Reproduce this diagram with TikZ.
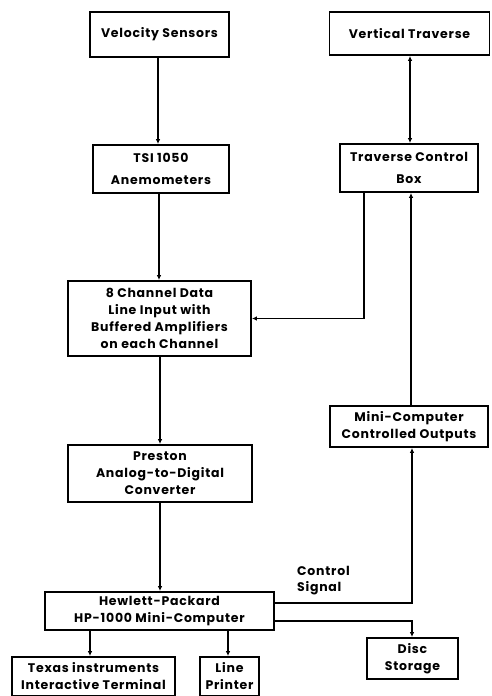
\documentclass[tikz,border=0pt]{standalone}
\usepackage{fontspec}
\setmainfont{Poppins}[LetterSpace=6]
\usetikzlibrary{positioning,arrows.meta}

\begin{document}
\begin{tikzpicture}[x=1pt,y=-1pt,
  blk/.style={draw,line width=1.8pt,align=center,inner sep=0pt,
    font=\bfseries\fontsize{12.5}{17}\selectfont},
  conn/.style={line width=1.5pt,-{Latex[length=5pt,width=4.5pt]}},
  lbl/.style={align=left,inner sep=0pt,font=\bfseries\fontsize{12.5}{16}\selectfont}]
\useasboundingbox (0,0) rectangle (491,696);
% left column
\node[blk,minimum width=139pt,minimum height=45pt] (vel) at (159.5,34.5) {Velocity Sensors};
\node[blk,minimum width=136pt,minimum height=48pt] (tsi) at (161,169) {TSI 1050\\[5pt]Anemometers};
\node[blk,minimum width=183pt,minimum height=75pt] (data) at (159.5,318.5) {8 Channel Data\\Line Input with\\Buffered Amplifiers\\on each Channel};
\node[blk,minimum width=184pt,minimum height=57pt] (adc) at (160,473.5) {Preston\\Analog-to-Digital\\Converter};
\node[blk,minimum width=229pt,minimum height=38pt] (hp) at (159.5,611) {Hewlett-Packard\\HP-1000 Mini-Computer};
\node[blk,minimum width=163pt,minimum height=39pt] (term) at (93.5,676.5) {Texas instruments\\Interactive Terminal};
\node[blk,minimum width=59pt,minimum height=39pt] (prn) at (229.5,676.5) {Line\\Printer};
% right column
\node[blk,minimum width=160pt,minimum height=43pt] (vert) at (409.5,33.5) {Vertical Traverse};
\node[blk,minimum width=138pt,minimum height=48pt] (tcb) at (409,168) {Traverse Control\\[5pt]Box};
\node[blk,minimum width=158pt,minimum height=41pt] (mco) at (409,426.5) {Mini-Computer\\Controlled Outputs};
\node[blk,minimum width=91pt,minimum height=41pt] (disc) at (412.5,658.5) {Disc\\Storage};
\node[lbl,anchor=north west] (sig) at (297,566) {Control\\Signal};
% connectors
\draw[conn] (vel.south -| 158,0) -- (tsi.north -| 158,0);
\draw[conn] (tsi.south -| 159,0) -- (data.north -| 159,0);
\draw[conn] (data.south -| 160,0) -- (adc.north -| 160,0);
\draw[conn] (adc.south -| 160,0) -- (hp.north -| 160,0);
\draw[conn,{Latex[length=5pt,width=4.5pt]}-{Latex[length=5pt,width=4.5pt]}] (vert.south -| 410,0) -- (tcb.north -| 410,0);
\draw[conn] (tcb.south -| 364,0) |- (data.east);
\draw[conn] (mco.north -| 411,0) -- (tcb.south -| 411,0);
\draw[conn] (hp.east |- 0,603) -| (mco.south -| 412,0);
\draw[conn] (hp.east |- 0,621) -| (disc.north -| 412,0);
\draw[conn] (hp.south -| 90,0) -- (term.north -| 90,0);
\draw[conn] (hp.south -| 228,0) -- (prn.north -| 228,0);
\end{tikzpicture}
\end{document}
